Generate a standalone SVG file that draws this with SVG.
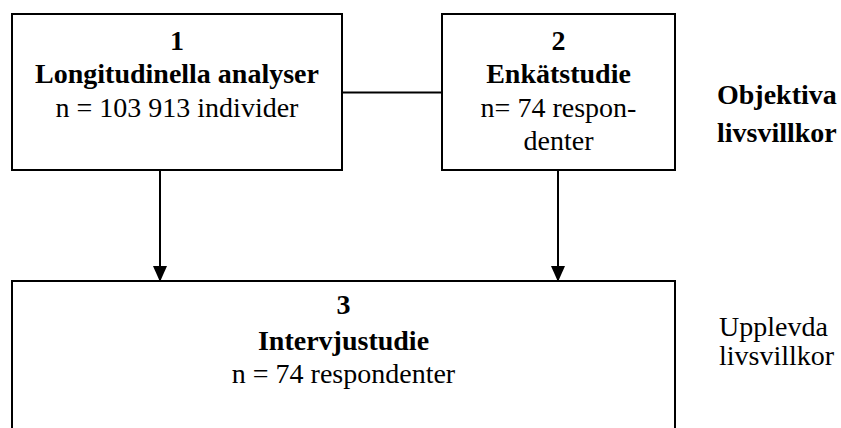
<svg xmlns="http://www.w3.org/2000/svg" width="841" height="428" viewBox="0 0 841 428">
<style>
.box{fill:#fff;stroke:#000;stroke-width:2}
.c{fill:none;stroke:#000;stroke-width:2}
.t{fill:#000;font-size:28px}
.b{font-weight:bold}
.m{text-anchor:middle}
</style>
<defs>
<marker id="ah" markerWidth="16" markerHeight="18" refX="16" refY="8" orient="auto" markerUnits="userSpaceOnUse" viewBox="0 0 18 16">
<path d="M0,0 L18,8 L0,16 Z" fill="#000"/>
</marker>
</defs>
<rect width="841" height="428" fill="#fff"/>
<g id="connectors">
<line class="c" x1="342" y1="92.5" x2="442" y2="92.5"/>
<line class="c" x1="160" y1="170" x2="160" y2="280" marker-end="url(#ah)"/>
<line class="c" x1="558" y1="170" x2="558" y2="280" marker-end="url(#ah)"/>
</g>
<g font-family="'Liberation Serif', 'DejaVu Serif', serif">
<g id="node1">
<rect class="box" x="12" y="14" width="330" height="156"/>
<text class="t b m" x="177" y="50">1</text>
<text class="t b m" x="177" y="83">Longitudinella analyser</text>
<text class="t m" x="177" y="117">n = 103 913 individer</text>
</g>
<g id="node2">
<rect class="box" x="442" y="14" width="233" height="156"/>
<text class="t b m" x="558.5" y="50">2</text>
<text class="t b m" x="558.5" y="83">Enkätstudie</text>
<text class="t m" x="558.5" y="117">n= 74 respon-</text>
<text class="t m" x="558.5" y="150">denter</text>
</g>
<g id="node3">
<rect class="box" x="12" y="281" width="663" height="160"/>
<text class="t b m" x="343.5" y="314">3</text>
<text class="t b m" x="343.5" y="350">Intervjustudie</text>
<text class="t m" x="343.5" y="383">n = 74 respondenter</text>
</g>
<g id="label-objektiva">
<text class="t b" x="717" y="104">Objektiva</text>
<text class="t b" x="717" y="142">livsvillkor</text>
</g>
<g id="label-upplevda">
<text class="t" x="719" y="336">Upplevda</text>
<text class="t" x="719" y="365">livsvillkor</text>
</g>
</g>
</svg>
